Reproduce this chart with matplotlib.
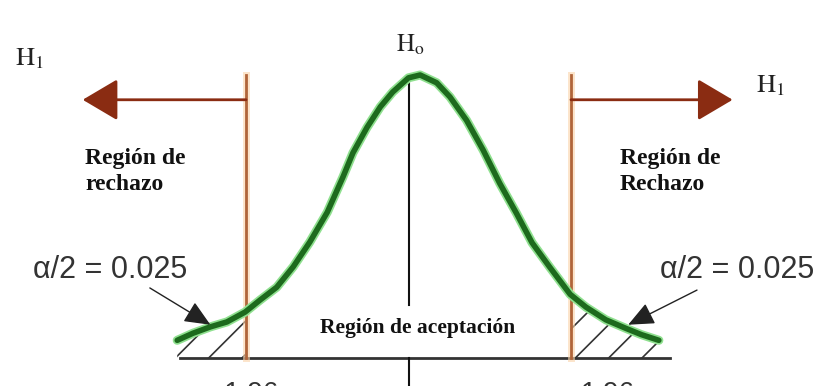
import numpy as np
import matplotlib
matplotlib.use('Agg')
from matplotlib import pyplot as plt

# curve (z units, density)
curve_z = [-2.79, -2.60, -2.39, -2.19, -1.97, -1.79, -1.59, -1.39, -1.19, -0.98,
           -0.79, -0.67, -0.50, -0.34, -0.19, 0.00, 0.14, 0.34, 0.50, 0.70,
           0.90, 1.10, 1.30, 1.49, 1.70, 1.95, 2.14, 2.38, 2.62, 2.81, 3.02]
curve_d = [0.025, 0.035, 0.044, 0.051, 0.065, 0.082, 0.100, 0.129, 0.164, 0.206,
           0.256, 0.290, 0.326, 0.355, 0.376, 0.396, 0.400, 0.389, 0.369, 0.336,
           0.294, 0.247, 0.205, 0.163, 0.129, 0.090, 0.072, 0.054, 0.042, 0.033, 0.025]

crit_z = [-1.96, 1.96]
crit_labels = ['-1.96', '1.96']
alpha_label = 'α/2 = 0.025'
reject_labels = ['Región de\nrechazo', 'Región de\nRechazo']
accept_label = 'Región de aceptación'
h0_label = r'$\mathrm{H}_\mathrm{o}$'
h1_label = r'$\mathrm{H}_1$'

plt.rcParams['mathtext.fontset'] = 'stix'
plt.rcParams['hatch.linewidth'] = 1.2
serif = ['Liberation Serif', 'DejaVu Serif']
sans = ['Liberation Sans', 'DejaVu Sans']

z = np.array(curve_z)
d = np.array(curve_d)

fig = plt.figure(figsize=(8.16, 3.86), dpi=100)
ax = fig.add_axes([0, 0, 1, 1])
ax.set_xlim(-408.5 / 82.9, (816 - 408.5) / 82.9)
ax.set_ylim(-28 / 707.5, 358 / 707.5)
ax.axis('off')

# hatched tails
left = z <= crit_z[0]
right = z >= crit_z[1] - 0.01
for m in [left, right]:
    ax.fill_between(z[m], d[m], 0, facecolor='none', edgecolor='#333333',
                    hatch='/', linewidth=0)

# baseline and centre line
ax.plot([-2.76, 3.15], [0, 0], color='#333333', lw=2)
ax.plot([0, 0], [0.075, 0.396], color='#111111', lw=1.5)
ax.plot([0, 0], [-0.05, 0], color='#111111', lw=1.5)

# critical lines
for c in crit_z:
    ax.plot([c, c], [0, 0.40], color='#fbd3a8', lw=5, alpha=0.6)
    ax.plot([c, c], [0, 0.40], color='#b0653a', lw=2)

# rejection arrows
for c, tip in [(crit_z[0], -3.93), (crit_z[1], 3.91)]:
    ax.annotate('', xy=(tip, 0.365), xytext=(c, 0.365),
                arrowprops=dict(arrowstyle='-|>,head_length=1.1,head_width=0.65',
                                color='#8a2c12', lw=2, mutation_scale=20,
                                shrinkA=0, shrinkB=0))

# the curve
ax.plot(z, d, color='#8fe08f', lw=6.5, solid_capstyle='round', solid_joinstyle='round')
ax.plot(z, d, color='#1d6a1d', lw=4, solid_capstyle='round', solid_joinstyle='round')

# alpha annotations
ax.annotate('', xy=(-2.39, 0.047), xytext=(-3.12, 0.099),
            arrowprops=dict(arrowstyle='-|>,head_length=0.8,head_width=0.35',
                            color='#222222', lw=1, mutation_scale=20,
                            shrinkA=0, shrinkB=0))
ax.annotate('', xy=(2.65, 0.047), xytext=(3.48, 0.096),
            arrowprops=dict(arrowstyle='-|>,head_length=0.8,head_width=0.35',
                            color='#222222', lw=1, mutation_scale=20,
                            shrinkA=0, shrinkB=0))
ax.text(-3.60, 0.124, alpha_label, ha='center', va='center', fontsize=22,
        family=sans, color='#333333')
ax.text(3.97, 0.124, alpha_label, ha='center', va='center', fontsize=22,
        family=sans, color='#333333')

# labels
ax.text(-3.90, 0.264, reject_labels[0], ha='left', va='center', fontsize=17,
        family=serif, weight='bold', linespacing=1.3, color='#111111')
ax.text(2.55, 0.264, reject_labels[1], ha='left', va='center', fontsize=17,
        family=serif, weight='bold', linespacing=1.3, color='#111111')
ax.text(0.115, 0.042, accept_label, ha='center', va='center', fontsize=15.5,
        family=serif, weight='bold', color='#111111')

ax.text(-4.57, 0.424, h1_label, ha='center', va='center', fontsize=19, color='#222222')
ax.text(4.37, 0.386, h1_label, ha='center', va='center', fontsize=19, color='#222222')
ax.text(0.02, 0.442, h0_label, ha='center', va='center', fontsize=18, color='#222222')

# critical values, cut off at the bottom edge as in the original
ax.text(-1.94, -0.0325, crit_labels[0], ha='center', va='top', fontsize=20,
        family=sans, color='#333333')
ax.text(2.41, -0.0325, crit_labels[1], ha='center', va='top', fontsize=20,
        family=sans, color='#333333')

fig.savefig('out.png', dpi=100)
